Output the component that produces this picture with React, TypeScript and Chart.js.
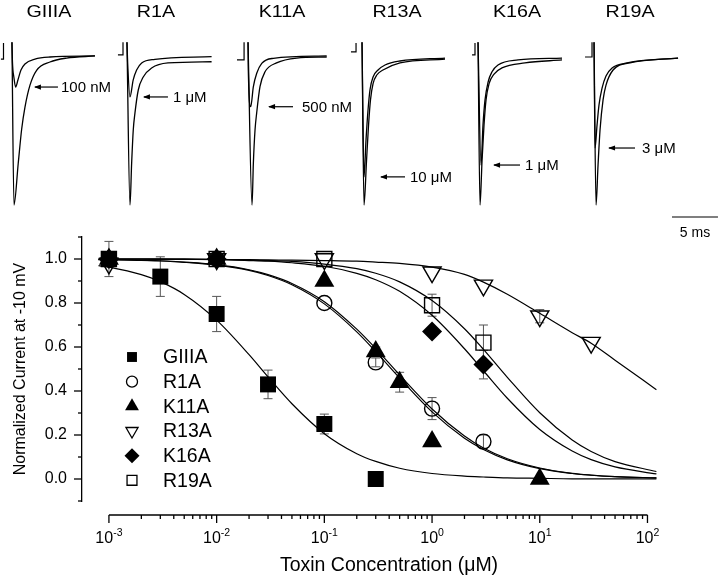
import React, { useEffect, useRef } from 'react';
import { Chart, registerables } from 'chart.js';

Chart.register(...registerables);

const FONT = '"Liberation Sans", Arial, Helvetica, sans-serif';

// ================= Top panel: current traces =================
// time in ms from the onset of the step, current normalised to the control peak
const traceNames = ['GIIIA', 'R1A', 'K11A', 'R13A', 'K16A', 'R19A'];
const toxinDoses = ['100 nM', '1 \u03bcM', '500 nM', '10 \u03bcM', '1 \u03bcM', '3 \u03bcM'];

const artifactTimeMs = [
  [-1.2, -0.92, -0.92],
  [-0.98, -0.43, -0.43],
  [-1.2, -0.43, -0.43],
  [-1.2, -0.65, -0.65],
  [-0.65, -0.33, -0.33],
  [-0.98, -0.22, -0.22],
];
const artifactCurrent = [
  [-0.014, -0.014, 0.095],
  [0.014, 0.014, 0.1],
  [-0.02, -0.02, 0.1],
  [0.034, 0.034, 0.095],
  [0.014, 0.014, 0.095],
  [0.0, 0.0, 0.1],
];
const controlTimeMs = [
  [0, 0.22, 0.68, 1.05, 1.41, 1.96, 2.68, 4.13, 5.95, 9.02],
  [0, 0.33, 0.51, 0.685, 0.87, 1.23, 1.77, 2.68, 4.46, 9.2],
  [0, 0.435, 0.58, 0.76, 0.94, 1.3, 1.85, 3.1, 5.3, 8.55],
  [0, 0.217, 0.49, 0.71, 0.92, 1.2, 1.63, 2.28, 4.13, 9.02],
  [0, 0.217, 0.435, 0.65, 0.87, 1.2, 1.74, 2.6, 5.1, 9.13],
  [0, 0.217, 0.435, 0.65, 0.98, 1.3, 2.07, 3.91, 9.13],
];
const controlCurrent = [
  [0.1, -1.0, -0.72, -0.49, -0.34, -0.19, -0.09, -0.034, -0.007, 0.007],
  [0.1, -1.0, -0.716, -0.493, -0.378, -0.223, -0.135, -0.074, -0.04, -0.032],
  [0.1, -1.0, -0.716, -0.493, -0.378, -0.2, -0.1, -0.04, -0.007, 0],
  [0.1, -1.0, -0.7, -0.46, -0.29, -0.18, -0.12, -0.088, -0.04, -0.014],
  [0.1, -1.0, -0.7, -0.46, -0.29, -0.18, -0.115, -0.074, -0.04, -0.02],
  [0.1, -1.0, -0.73, -0.493, -0.29, -0.19, -0.088, -0.04, -0.007],
];
const toxinTimeMs = [
  [0, 0.054, 0.22, 0.4, 0.65, 0.98, 1.41, 2.5, 4.13, 9.02],
  [0, 0.076, 0.326, 0.68, 1.05, 1.6, 3.04, 9.2],
  [0, 0.03, 0.29, 0.58, 0.945, 1.49, 2.75, 8.55],
  [0, 0.217, 0.435, 0.65, 0.87, 1.2, 1.74, 2.5, 4.13, 9.02],
  [0, 0.326, 0.54, 0.76, 1.09, 1.52, 2.17, 4.35, 9.13],
  [0, 0.11, 0.326, 0.54, 0.87, 1.3, 1.96, 3.59, 9.13],
];
const toxinCurrent = [
  [0.1, -0.034, -0.142, -0.203, -0.155, -0.088, -0.047, -0.014, 0, 0.007],
  [0.1, -0.04, -0.27, -0.155, -0.088, -0.04, -0.016, 0.002],
  [0.1, -0.088, -0.336, -0.2, -0.11, -0.043, -0.009, 0.007],
  [0.1, -0.81, -0.56, -0.36, -0.22, -0.135, -0.088, -0.054, -0.027, -0.007],
  [0.1, -0.73, -0.46, -0.29, -0.17, -0.1, -0.054, -0.02, -0.007],
  [0.1, -0.615, -0.46, -0.324, -0.21, -0.128, -0.074, -0.04, -0.007],
];
const scaleBarMs = 5;
const scaleBarLabel = '5 ms';

// layout of the trace panel (positions only)
const traceOnsetMs = [1.3, 13.8, 26.96, 39.35, 51.96, 64.57];
const titleOffsetPx = [37, 29, 34, 35, 39, 36];
const arrowTipPx = [22, 16, 20, 18, 15, 14];
const arrowTailPx = [46, 41, 45, 43, 42, 41];
const doseLabelPx = [49, 46, 54, 48, 47, 48];
const scaleBarStartMs = 73.04;

// ================= Bottom panel: dose-response =================
const concGIIIA = [0.001, 0.003, 0.01, 0.03, 0.1, 0.3];
const valGIIIA = [1.0, 0.92, 0.75, 0.43, 0.25, 0.0];
const errGIIIA = [0.08, 0.09, 0.08, 0.065, 0.045, 0];

const concR1A = [0.001, 0.01, 0.1, 0.3, 1, 3];
const valR1A = [1.0, 1.0, 0.8, 0.53, 0.32, 0.17];
const errR1A = [0, 0, 0, 0.02, 0.05, 0.03];

const concK11A = [0.001, 0.01, 0.1, 0.3, 0.5, 1, 10];
const valK11A = [1.0, 1.0, 0.9, 0.58, 0.44, 0.17, 0.0];
const errK11A = [0, 0, 0, 0.02, 0.045, 0, 0];

const concR13A = [0.001, 0.01, 0.1, 1, 3, 10, 30];
const valR13A = [0.98, 1.0, 1.0, 0.94, 0.88, 0.74, 0.62];
const errR13A = [0, 0, 0, 0, 0, 0.03, 0];

const concK16A = [0.001, 0.01, 1, 3];
const valK16A = [1.0, 1.0, 0.67, 0.52];
const errK16A = [0, 0, 0, 0.065];

const concR19A = [0.001, 0.01, 0.1, 1, 3];
const valR19A = [1.0, 1.0, 1.0, 0.79, 0.62];
const errR19A = [0, 0, 0, 0.05, 0.08];

const fitConc = [0.0008, 0.001, 0.002, 0.003, 0.005, 0.01, 0.02, 0.03, 0.05, 0.1, 0.2, 0.3, 0.5, 1, 2, 3, 5, 10, 20, 30, 50, 121];
const fitGIIIA = [0.97, 0.963, 0.929, 0.897, 0.839, 0.722, 0.565, 0.464, 0.342, 0.206, 0.115, 0.08, 0.049, 0.025, 0.013, 0.009, 0.005, 0.003, 0.001, 0.001, 0.0005, 0.0002];
const fitR1A = [0.997, 0.997, 0.994, 0.991, 0.985, 0.972, 0.948, 0.925, 0.883, 0.796, 0.669, 0.579, 0.459, 0.305, 0.185, 0.134, 0.087, 0.047, 0.025, 0.017, 0.011, 0.005];
const fitK11A = [0.997, 0.997, 0.994, 0.992, 0.986, 0.974, 0.951, 0.929, 0.889, 0.806, 0.681, 0.593, 0.473, 0.318, 0.195, 0.141, 0.092, 0.05, 0.026, 0.018, 0.011, 0.005];
const fitR13A = [1.0, 1.0, 1.0, 0.999, 0.999, 0.998, 0.997, 0.996, 0.995, 0.993, 0.99, 0.986, 0.98, 0.963, 0.93, 0.895, 0.84, 0.753, 0.665, 0.617, 0.54, 0.406];
const fitK16A = [1.0, 1.0, 0.999, 0.999, 0.998, 0.997, 0.993, 0.99, 0.983, 0.967, 0.935, 0.906, 0.853, 0.744, 0.592, 0.492, 0.367, 0.225, 0.127, 0.088, 0.055, 0.023];
const fitR19A = [1.0, 1.0, 1.0, 0.999, 0.999, 0.998, 0.995, 0.993, 0.989, 0.977, 0.956, 0.935, 0.896, 0.811, 0.683, 0.589, 0.462, 0.301, 0.177, 0.125, 0.079, 0.034];

const xTickDecades = [-3, -2, -1, 0, 1, 2];
const yTickValues = [0, 0.2, 0.4, 0.6, 0.8, 1.0];
const yAxisTitle = 'Normalized Current at -10 mV';
const xAxisTitle = 'Toxin Concentration (\u03bcM)';

type Series = {
  label: string; conc: number[]; val: number[]; err: number[]; fit: number[];
  shape: 'rect' | 'circle' | 'triangle' | 'tridown' | 'diamond'; filled: boolean;
  r: number; legendR: number;
};

const series: Series[] = [
  { label: 'GIIIA', conc: concGIIIA, val: valGIIIA, err: errGIIIA, fit: fitGIIIA, shape: 'rect', filled: true, r: 11.3, legendR: 7 },
  { label: 'R1A', conc: concR1A, val: valR1A, err: errR1A, fit: fitR1A, shape: 'circle', filled: false, r: 7.5, legendR: 5.5 },
  { label: 'K11A', conc: concK11A, val: valK11A, err: errK11A, fit: fitK11A, shape: 'triangle', filled: true, r: 11.5, legendR: 8 },
  { label: 'R13A', conc: concR13A, val: valR13A, err: errR13A, fit: fitR13A, shape: 'tridown', filled: false, r: 10.5, legendR: 7 },
  { label: 'K16A', conc: concK16A, val: valK16A, err: errK16A, fit: fitK16A, shape: 'diamond', filled: true, r: 10, legendR: 7.5 },
  { label: 'R19A', conc: concR19A, val: valR19A, err: errR19A, fit: fitR19A, shape: 'rect', filled: false, r: 10.6, legendR: 7 },
];

function chartStyle(shape: string): { pointStyle: any; rotation: number } {
  if (shape === 'rect') return { pointStyle: 'rect', rotation: 0 };
  if (shape === 'circle') return { pointStyle: 'circle', rotation: 0 };
  if (shape === 'triangle') return { pointStyle: 'triangle', rotation: 0 };
  if (shape === 'tridown') return { pointStyle: 'triangle', rotation: 180 };
  return { pointStyle: 'rectRot', rotation: 0 };
}

function drawShape(ctx: CanvasRenderingContext2D, shape: string, x: number, y: number, r: number, filled: boolean) {
  ctx.beginPath();
  if (shape === 'rect') {
    const h = r * Math.SQRT1_2;
    ctx.rect(x - h, y - h, 2 * h, 2 * h);
  } else if (shape === 'circle') {
    ctx.arc(x, y, r, 0, Math.PI * 2);
  } else if (shape === 'triangle') {
    ctx.moveTo(x, y - r);
    ctx.lineTo(x + 0.866 * r, y + 0.5 * r);
    ctx.lineTo(x - 0.866 * r, y + 0.5 * r);
    ctx.closePath();
  } else if (shape === 'tridown') {
    ctx.moveTo(x, y + r);
    ctx.lineTo(x + 0.866 * r, y - 0.5 * r);
    ctx.lineTo(x - 0.866 * r, y - 0.5 * r);
    ctx.closePath();
  } else {
    ctx.moveTo(x, y - r);
    ctx.lineTo(x + r, y);
    ctx.lineTo(x, y + r);
    ctx.lineTo(x - r, y);
    ctx.closePath();
  }
  if (filled) {
    ctx.fillStyle = '#000';
    ctx.fill();
  } else {
    ctx.lineWidth = 1.3;
    ctx.strokeStyle = '#000';
    ctx.stroke();
  }
}

const tracePlugin = {
  id: 'traceDecor',
  afterDraw(chart: any) {
    const ctx: CanvasRenderingContext2D = chart.ctx;
    const xs = chart.scales.x;
    const ys = chart.scales.y;
    ctx.save();
    ctx.fillStyle = '#000';
    ctx.strokeStyle = '#000';
    traceNames.forEach((name, g) => {
      const onset = xs.getPixelForValue(traceOnsetMs[g]);
      // title (stretched horizontally like the original)
      ctx.save();
      ctx.translate(onset + titleOffsetPx[g], 17);
      ctx.scale(1.23, 1);
      ctx.font = `16px ${FONT}`;
      ctx.textAlign = 'center';
      ctx.textBaseline = 'alphabetic';
      ctx.fillText(name, 0, 0);
      ctx.restore();
      // arrow at the toxin peak
      const peak = Math.min(...toxinCurrent[g]);
      const ay = ys.getPixelForValue(peak);
      const tip = onset + arrowTipPx[g];
      const tail = onset + arrowTailPx[g];
      ctx.lineWidth = 1.2;
      ctx.beginPath();
      ctx.moveTo(tip + 1, ay);
      ctx.lineTo(tail, ay);
      ctx.stroke();
      ctx.beginPath();
      ctx.moveTo(tip, ay);
      ctx.lineTo(tip + 7, ay - 2.6);
      ctx.lineTo(tip + 7, ay + 2.6);
      ctx.closePath();
      ctx.fill();
      ctx.font = `15px ${FONT}`;
      ctx.textAlign = 'left';
      ctx.textBaseline = 'middle';
      ctx.fillText(toxinDoses[g], onset + doseLabelPx[g], ay + 1);
    });
    // scale bar
    const b0 = xs.getPixelForValue(scaleBarStartMs);
    const b1 = xs.getPixelForValue(scaleBarStartMs + scaleBarMs);
    ctx.lineWidth = 1.2;
    ctx.beginPath();
    ctx.moveTo(b0, 217);
    ctx.lineTo(b1, 217);
    ctx.stroke();
    ctx.font = `14px ${FONT}`;
    ctx.textAlign = 'center';
    ctx.textBaseline = 'alphabetic';
    ctx.fillText(scaleBarLabel, (b0 + b1) / 2, 236.5);
    ctx.restore();
  },
};

const dosePlugin = {
  id: 'doseDecor',
  beforeDatasetsDraw(chart: any) {
    const ctx: CanvasRenderingContext2D = chart.ctx;
    const xs = chart.scales.x;
    const ys = chart.scales.y;
    ctx.save();
    ctx.strokeStyle = '#555';
    ctx.lineWidth = 1;
    series.forEach((s) => {
      s.conc.forEach((c, i) => {
        const e = s.err[i];
        if (!e) return;
        const x = xs.getPixelForValue(c);
        const yt = ys.getPixelForValue(s.val[i] + e);
        const yb = ys.getPixelForValue(s.val[i] - e);
        ctx.beginPath();
        ctx.moveTo(x, yt); ctx.lineTo(x, yb);
        ctx.moveTo(x - 4.5, yt); ctx.lineTo(x + 4.5, yt);
        ctx.moveTo(x - 4.5, yb); ctx.lineTo(x + 4.5, yb);
        ctx.stroke();
      });
    });
    ctx.restore();
  },
  afterDraw(chart: any) {
    const ctx: CanvasRenderingContext2D = chart.ctx;
    const xs = chart.scales.x;
    const ys = chart.scales.y;
    const area = chart.chartArea;
    ctx.save();
    ctx.strokeStyle = '#000';
    ctx.fillStyle = '#000';
    ctx.lineWidth = 1.3;
    // y ticks (major at labelled values, minor in between)
    for (let k = -1; k <= 11; k++) {
      const y = ys.getPixelForValue(k / 10);
      const len = k % 2 === 0 ? 8 : 4;
      ctx.beginPath();
      ctx.moveTo(area.left - len, y);
      ctx.lineTo(area.left, y);
      ctx.stroke();
    }
    // x axis (offset below the plot area)
    const axisY = area.bottom + 14;
    const xa = xs.getPixelForValue(Math.pow(10, xTickDecades[0]));
    const xb = xs.getPixelForValue(Math.pow(10, xTickDecades[xTickDecades.length - 1]));
    ctx.beginPath();
    ctx.moveTo(xa, axisY);
    ctx.lineTo(xb, axisY);
    ctx.stroke();
    xTickDecades.forEach((d, di) => {
      const base = Math.pow(10, d);
      const x = xs.getPixelForValue(base);
      ctx.beginPath();
      ctx.moveTo(x, axisY);
      ctx.lineTo(x, axisY + 8);
      ctx.stroke();
      if (di < xTickDecades.length - 1) {
        for (let m = 2; m <= 9; m++) {
          const xm = xs.getPixelForValue(base * m);
          ctx.beginPath();
          ctx.moveTo(xm, axisY);
          ctx.lineTo(xm, axisY + 4);
          ctx.stroke();
        }
      }
      // label 10^d
      ctx.font = `16px ${FONT}`;
      const w1 = ctx.measureText('10').width;
      ctx.font = `10.5px ${FONT}`;
      const exp = String(d);
      const w2 = ctx.measureText(exp).width;
      const start = x - (w1 + w2) / 2;
      ctx.textAlign = 'left';
      ctx.textBaseline = 'alphabetic';
      ctx.font = `16px ${FONT}`;
      ctx.fillText('10', start, 543);
      ctx.font = `10.5px ${FONT}`;
      ctx.fillText(exp, start + w1, 536);
    });
    ctx.font = `19.5px ${FONT}`;
    ctx.textAlign = 'center';
    ctx.fillText(xAxisTitle, 389, 571);
    // legend
    series.forEach((s, i) => {
      const y = 357 + i * 24.66;
      drawShape(ctx, s.shape, 132, y, s.legendR, s.filled);
      ctx.fillStyle = '#000';
      ctx.font = `19.5px ${FONT}`;
      ctx.textAlign = 'left';
      ctx.textBaseline = 'middle';
      ctx.fillText(s.label, 163, y + 1);
    });
    ctx.restore();
  },
};

export default function App() {
  const topRef = useRef<HTMLCanvasElement>(null);
  const botRef = useRef<HTMLCanvasElement>(null);

  useEffect(() => {
    const topDatasets: any[] = [];
    traceNames.forEach((_, g) => {
      const off = traceOnsetMs[g];
      topDatasets.push({
        data: artifactTimeMs[g].map((t, i) => ({ x: off + t, y: artifactCurrent[g][i] })),
        borderColor: '#000', borderWidth: 1.2, pointRadius: 0, tension: 0, showLine: true,
      });
      topDatasets.push({
        data: controlTimeMs[g].map((t, i) => ({ x: off + t, y: controlCurrent[g][i] })),
        borderColor: '#000', borderWidth: 1.3, pointRadius: 0, cubicInterpolationMode: 'monotone', showLine: true,
      });
      topDatasets.push({
        data: toxinTimeMs[g].map((t, i) => ({ x: off + t, y: toxinCurrent[g][i] })),
        borderColor: '#000', borderWidth: 1.3, pointRadius: 0, cubicInterpolationMode: 'monotone', showLine: true,
      });
    });

    const top = new Chart(topRef.current!, {
      type: 'scatter',
      data: { datasets: topDatasets },
      options: {
        animation: false,
        responsive: false,
        events: [],
        layout: { padding: { left: 0, right: 0, top: 0, bottom: 336 } },
        plugins: { legend: { display: false }, tooltip: { enabled: false } },
        scales: {
          x: { type: 'linear', min: 0, max: 720 / 9.2, display: false },
          y: { type: 'linear', min: -1.2365, max: 0.3851, display: false },
        },
      },
      plugins: [tracePlugin],
    } as any);

    const botDatasets: any[] = [];
    series.forEach((s, i) => {
      const st = chartStyle(s.shape);
      botDatasets.push({
        type: 'scatter',
        label: s.label,
        data: s.conc.map((c, j) => ({ x: c, y: s.val[j] })),
        pointStyle: st.pointStyle,
        rotation: st.rotation,
        pointRadius: s.r,
        backgroundColor: s.filled ? '#000' : 'rgba(0,0,0,0)',
        borderColor: '#000',
        borderWidth: s.filled ? 0 : 1.4,
        showLine: false,
        order: i,
        clip: false,
      });
    });
    series.forEach((s) => {
      botDatasets.push({
        type: 'line',
        label: s.label + ' fit',
        data: fitConc.map((c, j) => ({ x: c, y: s.fit[j] })),
        borderColor: '#000',
        borderWidth: 1.2,
        pointRadius: 0,
        cubicInterpolationMode: 'monotone',
        showLine: true,
        fill: false,
        order: 10,
      });
    });

    const bot = new Chart(botRef.current!, {
      type: 'scatter',
      data: { datasets: botDatasets },
      options: {
        animation: false,
        responsive: false,
        events: [],
        layout: { padding: { left: 0, right: 45.6, top: 237, bottom: 75 } },
        plugins: { legend: { display: false }, tooltip: { enabled: false } },
        scales: {
          x: { type: 'logarithmic', min: Math.pow(10, -3.25), max: Math.pow(10, 2.25), display: false },
          y: {
            type: 'linear',
            min: -0.1,
            max: 1.1,
            position: 'left',
            afterFit: (s: any) => { s.width = 82; },
            ticks: {
              stepSize: 0.1,
              autoSkip: false,
              padding: 15,
              color: '#000',
              font: { family: FONT, size: 16 },
              callback: (v: any) => {
                const n = Number(v);
                const hit = yTickValues.find((t) => Math.abs(t - n) < 1e-6);
                return hit === undefined ? '' : hit.toFixed(1);
              },
            },
            grid: { display: false, drawTicks: false },
            border: { display: true, color: '#000', width: 1.3 },
            title: {
              display: true,
              text: yAxisTitle,
              color: '#000',
              font: { family: FONT, size: 16 },
              padding: { top: 11, bottom: 0 },
            },
          },
        },
      },
      plugins: [dosePlugin],
    } as any);

    return () => {
      top.destroy();
      bot.destroy();
    };
  }, []);

  const cs: React.CSSProperties = { position: 'absolute', left: 0, top: 0, width: 720, height: 576 };
  return (
    <div style={{ position: 'absolute', left: 0, top: 0, width: 720, height: 576, background: '#fff' }}>
      <canvas ref={botRef} width={720} height={576} style={cs} />
      <canvas ref={topRef} width={720} height={576} style={cs} />
    </div>
  );
}
